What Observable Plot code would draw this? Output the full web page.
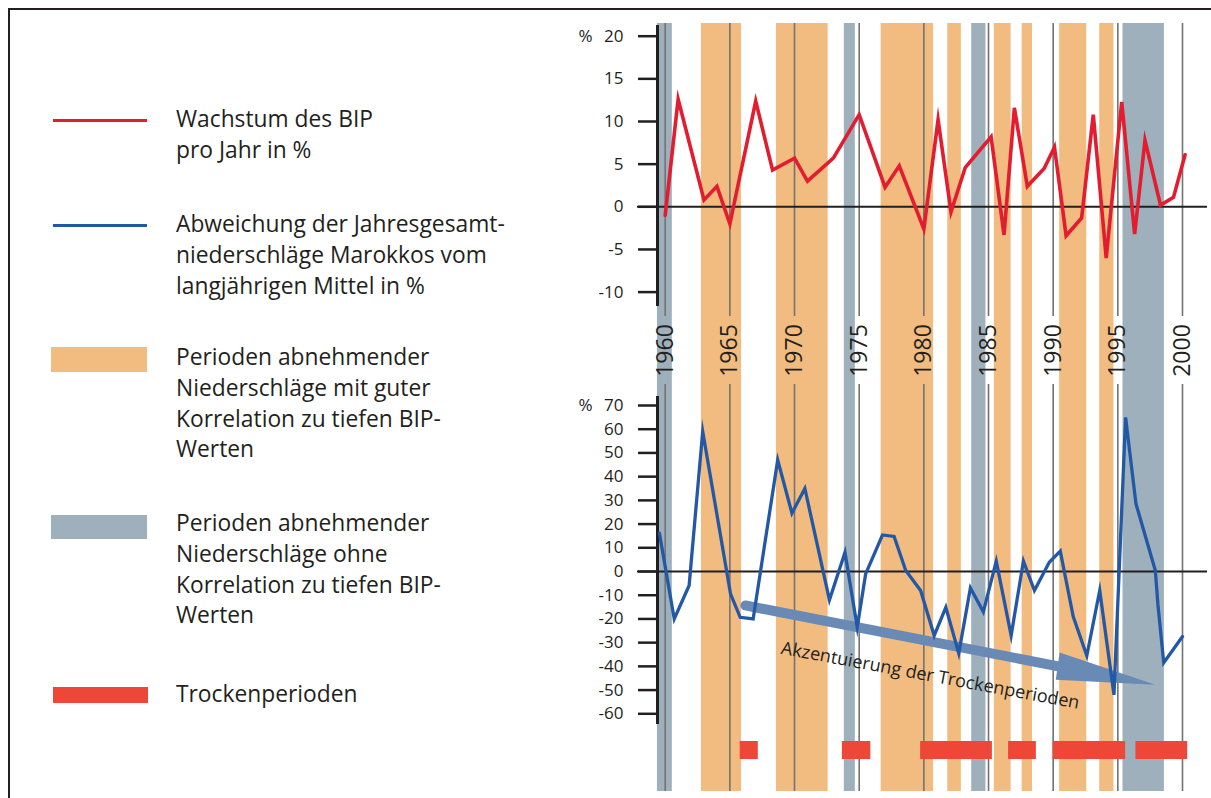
<!DOCTYPE html>
<html><head><meta charset="utf-8">
<script src="https://cdn.jsdelivr.net/npm/d3@7"></script>
<script src="https://cdn.jsdelivr.net/npm/@observablehq/plot@0.6"></script>
<style>
body{margin:0;background:#fff;}
#root{position:relative;width:1211px;height:798px;overflow:hidden;font-family:"Open Sans",sans-serif;color:#231f20;background:#fff;}
.plot{position:absolute;left:0;}
.leg{position:absolute;left:176px;font-size:22.8px;line-height:30.8px;white-space:nowrap;color:#231f20;}
.sw{position:absolute;}
</style></head><body><div id="root"></div>
<script>
// ---------------- data ----------------
const gridYears = [1960, 1965, 1970, 1975, 1980, 1985, 1990, 1995, 2000];
const gdpTicks = [-10, -5, 0, 5, 10, 15, 20];
const rainTicks = [-60, -50, -40, -30, -20, -10, 0, 10, 20, 30, 40, 50, 60, 70];

// BIP growth per year (%), vertices
const gdpYears  = [1960, 1961, 1963, 1964, 1965, 1967, 1968.3, 1970, 1971, 1973, 1975, 1977, 1978.1, 1980, 1981.1, 1982.1, 1983.2, 1985.2, 1986.2, 1987, 1988, 1989.3, 1990.1, 1991, 1992.2, 1993.1, 1994.1, 1995.3, 1996.3, 1997.1, 1998.3, 1999.3, 2000.2];
const gdpValues = [-1.0, 12.6, 0.8, 2.4, -2.0, 12.4, 4.3, 5.7, 3.0, 5.7, 10.8, 2.3, 4.8, -2.6, 10.2, -0.6, 4.6, 8.2, -3.3, 11.6, 2.4, 4.5, 7.0, -3.4, -1.3, 10.8, -6.0, 12.3, -3.2, 7.8, 0.2, 1.1, 6.1];

// Deviation of annual precipitation from long-term mean (%)
const rainYears  = [1959.55, 1960.7, 1961.85, 1962.9, 1965.05, 1965.8, 1966.8, 1968.7, 1969.8, 1970.8, 1972.7, 1973.9, 1974.85, 1975.5, 1976.8, 1977.7, 1978.6, 1979.75, 1980.8, 1981.7, 1982.7, 1983.6, 1984.6, 1985.6, 1986.75, 1987.7, 1988.55, 1989.7, 1990.55, 1991.55, 1992.6, 1993.6, 1994.7, 1995.6, 1996.4, 1997.9, 1998.1, 1998.55, 2000.0];
const rainValues = [16.2, -20.0, -5.9, 59.0, -9.4, -19.3, -20.0, 47.0, 24.6, 35.0, -12.0, 8.0, -23.5, -1.0, 15.4, 14.8, 0.4, -8.0, -27.0, -15.1, -34.5, -6.9, -17.0, 4.4, -27.0, 4.4, -8.0, 3.9, 8.6, -19.0, -35.5, -8.0, -52.0, 65.0, 28.6, 0.4, -14.0, -38.5, -27.4];

// Periods of decreasing precipitation with good correlation to low GDP (orange)
const orangeStart = [1962.8, 1968.6, 1976.7, 1981.85, 1985.45, 1987.6, 1990.5, 1993.6];
const orangeEnd   = [1965.9, 1972.6, 1980.75, 1982.9, 1986.75, 1988.4, 1992.6, 1994.7];
// ... without correlation (grey-blue)
const greyStart = [1959.4, 1973.85, 1983.7, 1995.4];
const greyEnd   = [1960.55, 1974.7, 1984.8, 1998.6];
// Dry periods (red bars)
const dryStart = [1965.8, 1973.7, 1979.75, 1986.55, 1990.0, 1996.4];
const dryEnd   = [1967.2, 1975.9, 1985.3, 1988.7, 1995.6, 2000.4];

// Trend arrow (data units: year, %)
const arrowShaftX = [1966.2, 1990.4];
const arrowShaftY = [-14.3, -40.0];
const arrowHeadX = [1990.5, 1997.9, 1990.2];
const arrowHeadY = [-34.2, -47.7, -45.6];
const arrowLabel = "Akzentuierung der Trockenperioden";
const arrowLabelPos = [1980.5, -43.9];

const legendTexts = [
  ["Wachstum des BIP", "pro Jahr in %"],
  ["Abweichung der Jahresgesamt-", "niederschläge Marokkos vom", "langjährigen Mittel in %"],
  ["Perioden abnehmender", "Niederschläge mit guter", "Korrelation zu tiefen BIP-", "Werten"],
  ["Perioden abnehmender", "Niederschläge ohne", "Korrelation zu tiefen BIP-", "Werten"],
  ["Trockenperioden"]
];

// ---------------- styles ----------------
const ORANGE = "#f2bc80", GREY = "#9db0bb", REDLINE = "#e31d30", BLUELINE = "#2358a6",
      DRY = "#ef4737", ARROW = "#6a8ab6", GRID = "#737373", INK = "#231f20";
const X = {domain: [1960, 2000], range: [664.7, 1182], axis: null};
const FONT = "Open Sans, sans-serif";

const root = document.getElementById("root");

const bands = () => [
  Plot.rect(orangeStart.map((s, i) => ({s, e: orangeEnd[i]})), {x1: "s", x2: "e", fill: ORANGE}),
  Plot.rect(greyStart.map((s, i) => ({s, e: greyEnd[i]})), {x1: "s", x2: "e", fill: GREY})
];
const grid = () => Plot.ruleX(gridYears, {stroke: GRID, strokeWidth: 1.6});

function place(svg, top) {
  svg.classList.add("plot");
  svg.style.top = top + "px";
  svg.style.background = "transparent";
  svg.style.fontFamily = FONT;
  svg.style.color = INK;
  root.appendChild(svg);
}

// border lines
const bt = document.createElement("div");
bt.style.cssText = "position:absolute;left:8px;top:8px;width:1203px;height:2px;background:#231f20";
root.appendChild(bt);
const bl = document.createElement("div");
bl.style.cssText = "position:absolute;left:8px;top:8px;width:2px;height:790px;background:#231f20";
root.appendChild(bl);

const axisOpts = {tickSize: 19, tickPadding: 15, fontSize: 17, strokeWidth: 2.5, stroke: INK, fill: INK, label: null, tickFormat: d => String(d)};

// ---------- top chart (GDP) ----------
const gdpData = gdpYears.map((x, i) => ({x, v: gdpValues[i]}));
place(Plot.plot({
  width: 1211, height: 316, marginLeft: 657, marginRight: 4, marginTop: 23, marginBottom: 0,
  style: {fontFamily: FONT, background: "transparent"},
  x: X,
  y: {domain: [-10, 20], range: [291.6, 35.7], label: null},
  marks: [
    ...bands(),
    grid(),
    Plot.ruleY([0], {insetLeft: -20, stroke: INK, strokeWidth: 2}),
    Plot.frame({anchor: "left", insetTop: 3, insetBottom: 12, stroke: INK, strokeWidth: 3}),
    Plot.axisY(gdpTicks, axisOpts),
    Plot.text([{v: 20}], {y: "v", text: () => "%", frameAnchor: "left", dx: -79, fontSize: 17, fill: INK}),
    Plot.line(gdpData, {x: "x", y: "v", stroke: REDLINE, strokeWidth: 3.6, strokeLinejoin: "miter", strokeMiterlimit: 8})
  ]
}), 0);

// ---------- middle band (year labels) ----------
place(Plot.plot({
  width: 1211, height: 68, marginLeft: 657, marginRight: 4, marginTop: 0, marginBottom: 0,
  style: {fontFamily: FONT, background: "transparent"},
  x: X,
  marks: [
    ...bands(),
    Plot.text(gridYears, {x: d => d, text: d => String(d), rotate: -90, frameAnchor: "middle", fontSize: 23, fill: INK})
  ]
}), 316);

// ---------- bottom chart (precipitation) ----------
const rainData = rainYears.map((x, i) => ({x, v: rainValues[i]}));
place(Plot.plot({
  width: 1211, height: 341, marginLeft: 657, marginRight: 4, marginTop: 0, marginBottom: 0,
  style: {fontFamily: FONT, background: "transparent", overflow: "visible"},
  x: X,
  y: {domain: [-60, 70], range: [329.3, 21], label: null},
  marks: [
    ...bands(),
    grid(),
    Plot.ruleY([0], {insetLeft: -20, stroke: INK, strokeWidth: 2}),
    Plot.frame({anchor: "left", insetTop: 13, insetBottom: 3, stroke: INK, strokeWidth: 3}),
    Plot.axisY(rainTicks, axisOpts),
    Plot.text([{v: 70}], {y: "v", text: () => "%", frameAnchor: "left", dx: -79, fontSize: 17, fill: INK}),
    Plot.line(arrowShaftX.map((x, i) => ({x, v: arrowShaftY[i]})), {x: "x", y: "v", stroke: ARROW, strokeWidth: 10}),
    Plot.line(arrowHeadX.map((x, i) => ({x, v: arrowHeadY[i]})), {x: "x", y: "v", fill: ARROW, stroke: "none"}),
    Plot.text([{x: arrowLabelPos[0], v: arrowLabelPos[1], t: arrowLabel}], {x: "x", y: "v", text: "t", rotate: 10.5, fontSize: 18, fill: INK}),
    Plot.line(rainData, {x: "x", y: "v", stroke: BLUELINE, strokeWidth: 3.3, strokeLinejoin: "miter", strokeMiterlimit: 8})
  ]
}), 384);

// ---------- dry periods row ----------
place(Plot.plot({
  width: 1211, height: 66, marginLeft: 657, marginRight: 4, marginTop: 0, marginBottom: 0,
  style: {fontFamily: FONT, background: "transparent"},
  x: X,
  marks: [
    ...bands(),
    grid(),
    Plot.rect(dryStart.map((s, i) => ({s, e: dryEnd[i]})), {x1: "s", x2: "e", fill: DRY, insetTop: 16, insetBottom: 32})
  ]
}), 725);

// ---------- legend ----------
const swatches = [
  {left: 53, top: 118.5, w: 94, h: 3.3, c: REDLINE},
  {left: 53, top: 223.5, w: 94, h: 3.3, c: BLUELINE},
  {left: 51, top: 347, w: 96, h: 25, c: ORANGE},
  {left: 51, top: 515, w: 96, h: 24, c: GREY},
  {left: 53, top: 687, w: 95, h: 16, c: DRY}
];
const legendTops = [104, 209, 342, 508, 679];
legendTexts.forEach((lines, i) => {
  const s = swatches[i];
  const sw = document.createElement("div");
  sw.className = "sw";
  sw.style.cssText += `left:${s.left}px;top:${s.top}px;width:${s.w}px;height:${s.h}px;background:${s.c}`;
  root.appendChild(sw);
  const t = document.createElement("div");
  t.className = "leg";
  t.style.top = legendTops[i] + "px";
  t.innerHTML = lines.join("<br>");
  root.appendChild(t);
});
</script>
</body></html>
